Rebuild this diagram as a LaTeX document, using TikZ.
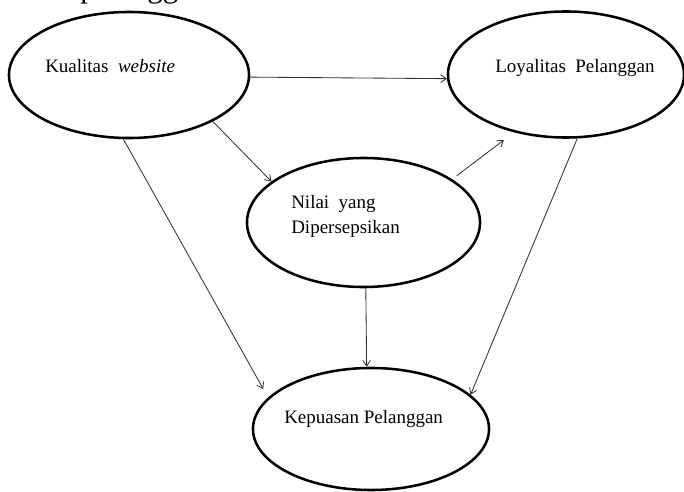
\documentclass[tikz,border=0pt]{standalone}
\usepackage{fontspec}
\setmainfont{Liberation Serif}
\usetikzlibrary{shapes.geometric,arrows.meta}
\begin{document}
\begin{tikzpicture}[x=0.025cm,y=-0.025cm]
\tikzset{oval/.style={draw, ellipse, line width=1.8pt, inner sep=0pt},
  lbl/.style={inner sep=0pt, anchor=base west, font=\fontsize{13.5}{17.7}\selectfont},
  arr/.style={draw=black!80, line width=0.6pt, -{Straight Barb[length=4pt,width=5.5pt]}}}
    \useasboundingbox (0,0) rectangle (684,492);
    \node[inner sep=0pt, anchor=base west, font=\fontsize{22}{26}\selectfont] at (80,-2) (prev) {pelanggan.};

    \node[oval, minimum width=6cm, minimum height=3.15cm] at (129,75) (kual) {};
    \node[oval, minimum width=5.9cm, minimum height=3.15cm] at (566,74.5) (loy) {};
    \node[oval, minimum width=5.825cm, minimum height=3.225cm] at (363.5,222.5) (nilai) {};
    \node[oval, minimum width=5.9cm, minimum height=3.05cm] at (371,429) (kep) {};

    \node[lbl] at (45,73) (kualtxt) {Kualitas~ \textit{website}};
    \node[lbl] at (495,73) (loytxt) {Loyalitas~ Pelanggan};
    \node[lbl, align=left] at (291,233) (niltxt) {Nilai~ yang\\Dipersepsikan};
    \node[lbl] at (284,423) (keptxt) {Kepuasan Pelanggan};

    \path (kual.-1) edge[arr] (loy.182);
    \path (kual.-29) edge[arr] (nilai.156);
    \path (kual.-95) edge[arr, shorten >=7pt] (kep.163);
    \path (nilai.26) edge[arr, shorten <=4pt, shorten >=9pt] (loy.228);
    \path (loy.-80) edge[arr] (kep.19);
    \path (nilai.-88) edge[arr] (kep.94);
\end{tikzpicture}
\end{document}
